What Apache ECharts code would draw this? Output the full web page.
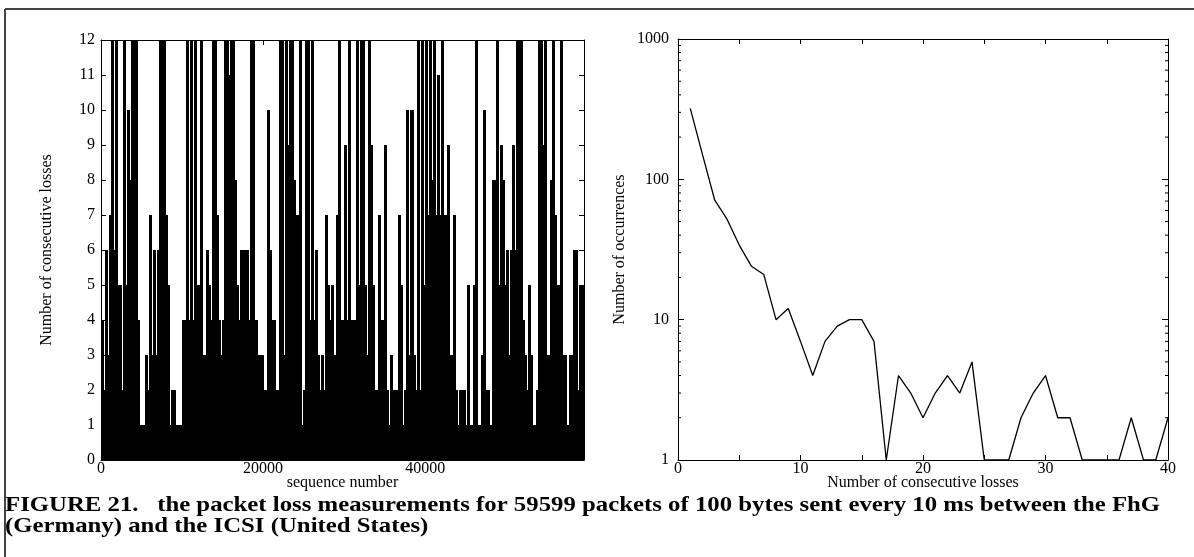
<!DOCTYPE html>
<html>
<head>
<meta charset="utf-8">
<script src="https://cdn.jsdelivr.net/npm/echarts@6/dist/echarts.min.js"></script>
<style>
html,body{margin:0;padding:0;background:#fff;}
#c{width:1194px;height:557px;}
</style>
</head>
<body>
<div id="c"></div>
<script>
// ---------- DATA ----------
// Left panel: maximum number of consecutive losses per block of 250 sequence numbers
const seqBin = 250;
const seqMax = 59599;
const lossMax = [
 4,2,6,3,7,12,6,12,5,5,2,12,5,10,8,12,12,12,4,1,1,1,3,2,7,3,6,3,6,12,12,12,7,5,1,2,2,1,1,1,4,4,
 12,4,12,4,12,5,5,12,3,3,6,5,4,12,12,7,4,3,4,12,12,11,12,12,8,5,4,6,6,6,6,4,12,12,4,3,3,3,2,2,10,6,4,4,2,2,12,12,3,
 12,9,12,12,8,7,7,12,1,2,12,12,4,12,4,6,3,2,3,2,7,5,4,5,3,7,12,4,4,9,4,12,4,4,4,12,5,12,12,5,3,12,9,5,2,2,7,4,4,
 9,2,1,3,2,2,2,7,5,1,2,10,3,10,3,2,12,2,12,5,12,7,12,8,12,7,11,7,12,7,7,9,3,3,7,2,1,2,2,2,1,5,1,1,5,12,1,1,3,
 10,2,2,1,8,8,12,5,9,8,5,6,3,6,9,6,12,12,12,4,3,2,5,3,1,1,2,12,12,9,12,3,3,8,12,7,5,5,12,3,3,1,3,3,6,6,2,5,5,5
];
const seqTicks = [0, 20000, 40000];
const lossTicks = [0,1,2,3,4,5,6,7,8,9,10,11,12];

// Right panel: number of occurrences of each burst length
const burstLength = [1,2,3,4,5,6,7,8,9,10,11,12,13,14,15,16,17,18,19,20,21,22,23,24,25,26,27,28,29,30,31,32,33,34,35,36,37,38,39,40];
const occurrences = [320,150,71,52,34,24,21,10,12,7,4,7,9,10,10,7,1,4,3,2,3,4,3,5,1,1,1,2,3,4,2,2,1,1,1,1,2,1,1,2];
const burstTicks = [0,10,20,30,40];
const occTicks = [1,10,100,1000];
const occMinorTicks = [2,3,4,5,6,7,8,9,20,30,40,50,60,70,80,90,200,300,400,500,600,700,800,900];

const captionLine1 = 'FIGURE 21.   the packet loss measurements for 59599 packets of 100 bytes sent every 10 ms between the FhG';
const captionLine2 = '(Germany) and the ICSI (United States)';

// ---------- CHART ----------
const FONT = '"Liberation Serif","Times New Roman",serif';
const chart = echarts.init(document.getElementById('c'), null, {renderer:'canvas'});

const lbl = {fontFamily: FONT, fontSize: 16, color: '#000'};
const axLine = {show:true, onZero:false, lineStyle:{color:'#000', width:1}};
const nameStyle = {fontFamily:FONT, fontSize:16, color:'#000'};

function boxAxis(base, extra){ return Object.assign({}, base, extra); }

const leftX = {
  type:'value', gridIndex:0, min:0, max:seqMax, interval:20000,
  axisLine:axLine, axisTick:{show:true, inside:true, length:5, lineStyle:{color:'#000'}},
  splitLine:{show:false}
};
const leftY = {
  type:'value', gridIndex:0, min:0, max:12, interval:1,
  axisLine:axLine, axisTick:{show:true, inside:true, length:5, lineStyle:{color:'#000'}},
  splitLine:{show:false}
};
const rightX = {
  type:'value', gridIndex:1, min:0, max:40, interval:5,
  axisLine:axLine, axisTick:{show:true, inside:true, length:5, lineStyle:{color:'#000'}},
  splitLine:{show:false}
};
const rightY = {
  type:'log', logBase:10, gridIndex:1, min:1, max:1000,
  axisLine:axLine, axisTick:{show:true, inside:true, length:6, lineStyle:{color:'#000'}},
  splitLine:{show:false}
};

const option = {
  animation:false,
  backgroundColor:'#fff',
  grid:[
    {left:101, top:40, width:483, height:420},
    {left:678, top:39, width:490, height:421}
  ],
  xAxis:[
    boxAxis(leftX, {position:'bottom',
      name:'sequence number', nameLocation:'middle', nameGap:15, nameMoveOverlap:false, nameTextStyle:nameStyle,
      axisLabel:Object.assign({margin:1, showMaxLabel:false,
        formatter:v=> seqTicks.includes(v) ? String(v) : ''}, lbl)}),
    boxAxis(leftX, {position:'top', axisLabel:{show:false}}),
    boxAxis(rightX, {position:'bottom',
      name:'Number of consecutive losses', nameLocation:'middle', nameGap:15, nameMoveOverlap:false, nameTextStyle:nameStyle,
      axisLabel:Object.assign({margin:1,
        formatter:v=> burstTicks.includes(v) ? String(v) : ''}, lbl)}),
    boxAxis(rightX, {position:'top', axisLabel:{show:false}})
  ],
  yAxis:[
    boxAxis(leftY, {position:'left',
      name:'Number of consecutive losses', nameLocation:'middle', nameGap:46, nameMoveOverlap:false, nameTextStyle:nameStyle,
      axisLabel:Object.assign({margin:6,
        formatter:v=> lossTicks.includes(v) ? String(v) : ''}, lbl)}),
    boxAxis(leftY, {position:'right', axisLabel:{show:false}}),
    boxAxis(rightY, {position:'left',
      name:'Number of occurrences', nameLocation:'middle', nameGap:50, nameMoveOverlap:false, nameTextStyle:nameStyle,
      axisLabel:Object.assign({margin:9,
        formatter:v=> occTicks.includes(Math.round(v)) ? String(Math.round(v)) : ''}, lbl)}),
    boxAxis(rightY, {position:'right', axisLabel:{show:false}})
  ],
  series:[
    {
      type:'custom', xAxisIndex:0, yAxisIndex:0, clip:true, silent:true,
      data: lossMax.map((v,i)=>[i*seqBin, v]),
      renderItem:function(params, api){
        const s = api.value(0);
        const e = Math.min(s + seqBin, seqMax);
        const p0 = api.coord([s, 0]);
        const p1 = api.coord([e, api.value(1)]);
        const x0 = Math.floor(p0[0]);
        const x1 = Math.max(Math.ceil(p1[0]), x0 + 1);
        return {type:'rect', shape:{x:x0, y:Math.round(p1[1]), width:x1-x0, height:Math.round(p0[1])-Math.round(p1[1])},
                style:{fill:'#000', stroke:null}};
      }
    },
    {
      type:'line', xAxisIndex:2, yAxisIndex:2, silent:true,
      data: burstLength.map((b,i)=>[b, occurrences[i]]),
      symbol:'none', lineStyle:{color:'#000', width:1.3}
    },
    {
      type:'custom', xAxisIndex:2, yAxisIndex:2, silent:true, clip:false, z:5,
      data: occMinorTicks.map(v=>[0, v]),
      renderItem:function(params, api){
        const v = api.value(1);
        const l = api.coord([0, v]);
        const r = api.coord([40, v]);
        return {type:'group', children:[
          {type:'line', shape:{x1:l[0], y1:l[1], x2:l[0]+3, y2:l[1]}, style:{stroke:'#000', lineWidth:1}},
          {type:'line', shape:{x1:r[0]-3, y1:r[1], x2:r[0], y2:r[1]}, style:{stroke:'#000', lineWidth:1}}
        ]};
      }
    }
  ],
  graphic:[
    {type:'line', shape:{x1:5, y1:9, x2:1194, y2:9}, style:{stroke:'#444', lineWidth:2}},
    {type:'line', shape:{x1:5, y1:9, x2:5, y2:557}, style:{stroke:'#444', lineWidth:2}},
    {type:'text', x:5, y:495, scaleX:1.18, style:{text:captionLine1, fontFamily:FONT, fontWeight:'bold', fontSize:21, fill:'#000'}},
    {type:'text', x:5, y:516, scaleX:1.18, style:{text:captionLine2, fontFamily:FONT, fontWeight:'bold', fontSize:21, fill:'#000'}}
  ]
};
chart.setOption(option);
</script>
</body>
</html>
